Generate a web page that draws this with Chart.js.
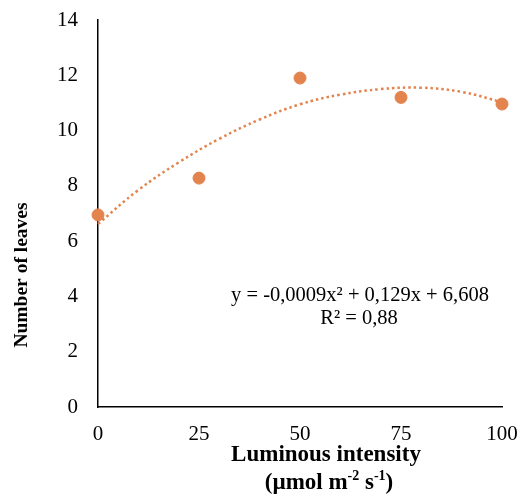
<!DOCTYPE html>
<html>
<head>
<meta charset="utf-8">
<script src="https://cdn.jsdelivr.net/npm/chart.js@4/dist/chart.umd.min.js"></script>
<style>
  html, body { margin: 0; padding: 0; background: #fff; }
  #wrap { width: 529px; height: 496px; }
</style>
</head>
<body>
<div id="wrap"><canvas id="leafChart" width="529" height="496"></canvas></div>
<script>
// observed values
const intensity = [0, 25, 50, 75, 100];
const leaves = [6.95, 8.28, 11.9, 11.2, 10.96];

// trendline
const trendX = [0, 10, 20, 30, 40, 50, 60, 70, 80, 90, 100];
const trendY = [6.62, 7.85, 8.85, 9.7, 10.4, 10.95, 11.3, 11.5, 11.55, 11.4, 11.03];

const yTicks = [0, 2, 4, 6, 8, 10, 12, 14];
const xTicks = [0, 25, 50, 75, 100];

const equation = ['y = -0,0009x\u00b2 + 0,129x + 6,608', 'R\u00b2 = 0,88'];
const xTitle = 'Luminous intensity';
// second line of x title, pieces flagged as superscript
const xUnit = [['(\u00b5mol m', false], ['-2', true], [' s', false], ['-1', true], [')', false]];
const yTitle = 'Number of leaves';

const orange = '#E3834E';
const serif = '"Liberation Serif", "Times New Roman", serif';

// draws a line made of normal/superscript pieces, centred on cx
function drawPieces(ctx, pieces, cx, cy, size) {
    const big = 'bold ' + size + 'px ' + serif;
    const small = 'bold ' + Math.round(size * 0.62) + 'px ' + serif;
    let total = 0;
    pieces.forEach(([t, sup]) => {
        ctx.font = sup ? small : big;
        total += ctx.measureText(t).width;
    });
    let x = cx - total / 2;
    ctx.textAlign = 'left';
    pieces.forEach(([t, sup]) => {
        ctx.font = sup ? small : big;
        ctx.fillText(t, x, sup ? cy - size * 0.3 : cy);
        x += ctx.measureText(t).width;
    });
}

// axis titles + equation drawn by hand since they sit off-centre
const labelsPlugin = {
    id: 'labels',
    afterDraw(chart) {
        const ctx = chart.ctx;
        ctx.save();
        ctx.fillStyle = '#000';
        ctx.textAlign = 'center';
        ctx.textBaseline = 'middle';

        ctx.font = '20.5px ' + serif;
        ctx.fillText(equation[0], 360, 296);
        ctx.fillText(equation[1], 359, 319);

        ctx.font = 'bold 23px ' + serif;
        ctx.fillText(xTitle, 326, 455);
        drawPieces(ctx, xUnit, 329, 483, 23);

        ctx.textAlign = 'center';
        ctx.font = 'bold 19.5px ' + serif;
        ctx.translate(22, 275);
        ctx.rotate(-Math.PI / 2);
        ctx.fillText(yTitle, 0, 0);
        ctx.restore();
    }
};

new Chart(document.getElementById('leafChart'), {
    type: 'scatter',
    data: {
        datasets: [
            {
                label: 'Leaves',
                data: intensity.map((x, i) => ({ x, y: leaves[i] })),
                backgroundColor: orange,
                borderColor: orange,
                pointRadius: 6,
                pointHoverRadius: 6,
                clip: false,
                order: 1
            },
            {
                label: 'Trend',
                type: 'line',
                data: trendX.map((x, i) => ({ x, y: trendY[i] })),
                borderColor: orange,
                borderWidth: 2.5,
                borderDash: [2.5, 3],
                pointRadius: 0,
                tension: 0.4,
                fill: false,
                clip: false,
                order: 2
            }
        ]
    },
    options: {
        responsive: false,
        animation: false,
        layout: { padding: { left: 0, top: 20, right: 27, bottom: 0 } },
        plugins: {
            legend: { display: false },
            tooltip: { enabled: false }
        },
        scales: {
            x: {
                type: 'linear',
                min: 0,
                max: 100,
                afterBuildTicks: axis => { axis.ticks = xTicks.map(v => ({ value: v })); },
                afterFit: axis => {
                    axis.height = 89;
                    axis.paddingLeft = 0;
                    axis.paddingRight = 0;
                },
                grid: { display: false, drawTicks: false },
                border: { display: true, color: '#000', width: 1.5 },
                ticks: { color: '#000', padding: 15, font: { family: serif, size: 21 } }
            },
            y: {
                type: 'linear',
                min: 0,
                max: 14,
                afterBuildTicks: axis => { axis.ticks = yTicks.map(v => ({ value: v })); },
                afterFit: axis => {
                    axis.width = 98;
                    axis.paddingTop = 0;
                    axis.paddingBottom = 0;
                },
                grid: { display: false, drawTicks: false },
                border: { display: true, color: '#000', width: 1.5 },
                ticks: { color: '#000', padding: 20, font: { family: serif, size: 21 } }
            }
        }
    },
    plugins: [labelsPlugin]
});
</script>
</body>
</html>
